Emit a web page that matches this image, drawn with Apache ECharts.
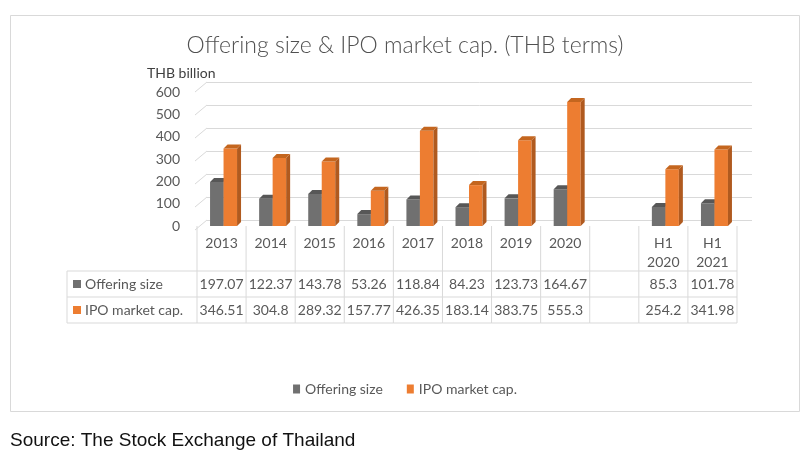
<!DOCTYPE html>
<html>
<head>
<meta charset="utf-8">
<script src="https://cdn.jsdelivr.net/npm/echarts@6/dist/echarts.min.js"></script>
<style>
  html, body { margin: 0; padding: 0; background: #fff; }
  #chart { width: 810px; height: 456px; }
</style>
</head>
<body>
<div id="chart"></div>
<script>
// data
var categories = ['2013', '2014', '2015', '2016', '2017', '2018', '2019', '2020', '', 'H1\n2020', 'H1\n2021'];
var offeringSize = [197.07, 122.37, 143.78, 53.26, 118.84, 84.23, 123.73, 164.67, null, 85.3, 101.78];
var ipoMarketCap = [346.51, 304.8, 289.32, 157.77, 426.35, 183.14, 383.75, 555.3, null, 254.2, 341.98];
var seriesNames = ['Offering size', 'IPO market cap.'];
var yTicks = [0, 100, 200, 300, 400, 500, 600];

var FONT = 'Lato, "Open Sans", sans-serif';
var GRID_LINE = '#d9d9d9';
var TEXT = '#595959';

var faces = [
    {front: '#707070', side: '#4e4e4e', top: '#575757'},
    {front: '#ed7d31', side: '#b05a1f', top: '#c4661f'}
];

function toPairs(arr) {
    return arr.map(function (v, i) { return [i, v]; });
}

// 3d looking bar: front face, right side and top
function bar3d(k) {
    return function (params, api) {
        var v = api.value(1);
        if (v == null || isNaN(v)) return;
        var i = api.value(0);
        var base = api.coord([i, 0]);
        var top = api.coord([i, v]);
        var band = api.size([1, 0])[0];
        var w = band * 0.275;
        var d = 4;
        var x0 = base[0] + 2 + (k === 0 ? -w : 0);
        var x1 = x0 + w;
        var yb = base[1], yt = top[1];
        var c = faces[k];
        return {
            type: 'group',
            children: [
                {type: 'rect', shape: {x: x0, y: yt, width: w, height: yb - yt}, style: {fill: c.front}},
                {type: 'polygon', shape: {points: [[x1, yt], [x1 + d, yt - d], [x1 + d, yb - d], [x1, yb]]}, style: {fill: c.side}},
                {type: 'polygon', shape: {points: [[x0, yt], [x0 + d, yt - d], [x1 + d, yt - d], [x1, yt]]}, style: {fill: c.top}}
            ]
        };
    };
}

// data table under the plot, one column per category
function tableCell(params, api) {
    var i = api.value(0);
    var base = api.coord([i, 0]);
    var band = api.size([1, 0])[0];
    var xl = base[0] - band / 2, xr = base[0] + band / 2;
    var y0 = base[1], y1 = y0 + 45, y2 = y1 + 26, y3 = y2 + 26;
    var line = {stroke: GRID_LINE, lineWidth: 1};
    var txt = {fill: TEXT, font: '14px ' + FONT, textAlign: 'center', textVerticalAlign: 'middle'};
    var ch = [
        {type: 'line', shape: {x1: xl, y1: y0, x2: xl, y2: y3}, style: line},
        {type: 'line', shape: {x1: xl, y1: y1, x2: xr, y2: y1}, style: line},
        {type: 'line', shape: {x1: xl, y1: y2, x2: xr, y2: y2}, style: line},
        {type: 'line', shape: {x1: xl, y1: y3, x2: xr, y2: y3}, style: line}
    ];
    if (offeringSize[i] != null) {
        ch.push({type: 'text', style: Object.assign({text: String(offeringSize[i]), x: base[0], y: (y1 + y2) / 2}, txt)});
        ch.push({type: 'text', style: Object.assign({text: String(ipoMarketCap[i]), x: base[0], y: (y2 + y3) / 2}, txt)});
    }
    if (i === categories.length - 1) {
        ch.push({type: 'line', shape: {x1: xr, y1: y0, x2: xr, y2: y3}, style: line});
    }
    if (i === 0) {
        var lx = xl - 130;
        ch.push({type: 'line', shape: {x1: lx, y1: y1, x2: xl, y2: y1}, style: line});
        ch.push({type: 'line', shape: {x1: lx, y1: y2, x2: xl, y2: y2}, style: line});
        ch.push({type: 'line', shape: {x1: lx, y1: y3, x2: xl, y2: y3}, style: line});
        ch.push({type: 'line', shape: {x1: lx, y1: y1, x2: lx, y2: y3}, style: line});
        [y1, y2].forEach(function (yy, k) {
            ch.push({type: 'rect', shape: {x: lx + 6, y: yy + 9, width: 8, height: 8}, style: {fill: faces[k].front}});
            ch.push({type: 'text', style: {text: seriesNames[k], x: lx + 18, y: yy + 13, fill: TEXT, font: '14px ' + FONT, textVerticalAlign: 'middle'}});
        });
    }
    return {type: 'group', children: ch};
}

// slanted lines joining the value labels to the back wall gridlines
function gridSlant(params, api) {
    var p = api.coord([0, api.value(1)]);
    var gx = api.coord([0, 0])[0] - api.size([1, 0])[0] / 2;
    return {type: 'line', shape: {x1: gx - 12, y1: p[1] + 10, x2: gx, y2: p[1]}, style: {stroke: GRID_LINE, lineWidth: 1}};
}

var chart = echarts.init(document.getElementById('chart'));
chart.setOption({
    backgroundColor: '#fff',
    animation: false,
    title: [
        {text: 'Offering size & IPO market cap. (THB terms)', left: 'center', top: 29,
            textStyle: {fontFamily: FONT, fontWeight: 300, fontSize: 23, color: '#505050'}},
        {text: 'THB billion', left: 142, top: 61,
            textStyle: {fontFamily: FONT, fontWeight: 'normal', fontSize: 14, color: '#404040'}},
        {text: 'Source: The Stock Exchange of Thailand', left: 5, top: 426,
            textStyle: {fontFamily: '"Liberation Sans", Arial, sans-serif', fontWeight: 'normal', fontSize: 19, color: '#111'}}
    ],
    graphic: [
        {type: 'rect', shape: {x: 10.5, y: 15.5, width: 789, height: 396}, style: {fill: 'none', stroke: GRID_LINE, lineWidth: 1}, z: -1}
    ],
    legend: {
        data: seriesNames,
        top: 377,
        left: 'center',
        icon: 'rect',
        itemWidth: 7,
        itemHeight: 9,
        itemGap: 24,
        textStyle: {fontFamily: FONT, fontSize: 14, color: TEXT}
    },
    grid: [
        {left: 197, right: 73, top: 92, bottom: 230},
        {left: 207, right: 58, top: 82, bottom: 236}
    ],
    xAxis: [
        {type: 'category', gridIndex: 0, data: categories,
            axisLine: {show: false}, axisTick: {show: false},
            axisLabel: {margin: 8, fontFamily: FONT, fontSize: 14, color: TEXT, lineHeight: 19, interval: 0}},
        {type: 'category', gridIndex: 1, data: categories, show: false}
    ],
    yAxis: [
        {type: 'value', gridIndex: 0, min: 0, max: 600, interval: 100,
            axisLine: {show: false}, axisTick: {show: false}, splitLine: {show: false},
            axisLabel: {margin: 17, fontFamily: FONT, fontSize: 14, color: TEXT}},
        {type: 'value', gridIndex: 1, min: 0, max: 600, interval: 100,
            axisLine: {show: false}, axisTick: {show: false}, axisLabel: {show: false},
            splitLine: {lineStyle: {color: GRID_LINE, width: 1}}}
    ],
    series: [
        {type: 'custom', name: 'slant', xAxisIndex: 1, yAxisIndex: 1, silent: true,
            renderItem: gridSlant, data: yTicks.map(function (t) { return [0, t]; })},
        {type: 'custom', name: seriesNames[0], xAxisIndex: 0, yAxisIndex: 0, z: 3,
            itemStyle: {color: faces[0].front}, renderItem: bar3d(0),
            encode: {x: 0, y: 1}, data: toPairs(offeringSize)},
        {type: 'custom', name: seriesNames[1], xAxisIndex: 0, yAxisIndex: 0, z: 3,
            itemStyle: {color: faces[1].front}, renderItem: bar3d(1),
            encode: {x: 0, y: 1}, data: toPairs(ipoMarketCap)},
        {type: 'custom', name: 'table', xAxisIndex: 0, yAxisIndex: 0, silent: true, clip: false,
            renderItem: tableCell, encode: {x: 0, y: 1},
            data: categories.map(function (c, i) { return [i, 0]; })}
    ]
});
</script>
</body>
</html>
